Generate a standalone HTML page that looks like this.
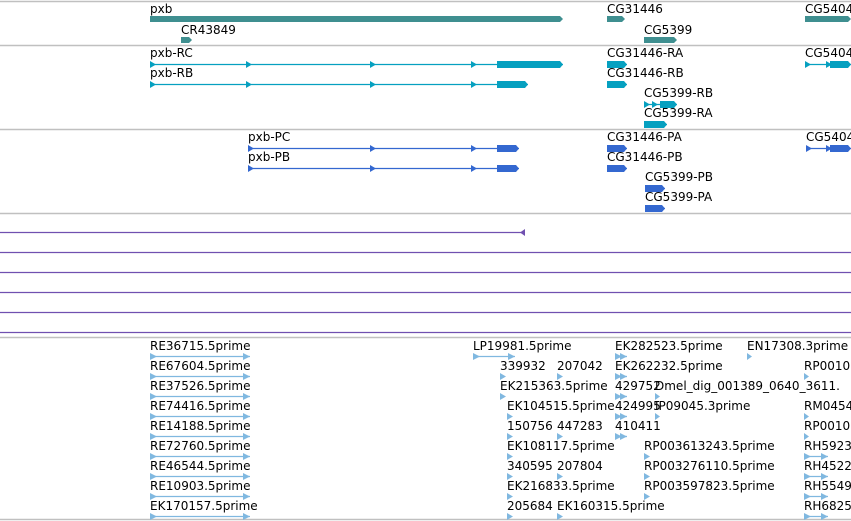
<!DOCTYPE html>
<html><head><meta charset="utf-8">
<style>
html,body{margin:0;padding:0;background:#fff;width:851px;height:521px;overflow:hidden}
svg{display:block}
text{font-family:"DejaVu Sans","Liberation Sans",sans-serif;font-size:12px;fill:#000}
</style></head>
<body>
<svg id="v" width="851" height="521"></svg>
<script>
// separators (track boundaries)
const separators = [1, 45, 129, 213, 337, 519];
// genes: [label, start, end, row]
const genes = [["pxb",150,563,0],["CR43849",181,192,1],["CG31446",607,625,0],["CG5399",644,677,1],["CG5404",805,851,0]];
// transcripts: [label, start, end, thickStart, thickEnd, row, arrows]
const transcripts = [
 ["pxb-RC",150,563,497,563,0,[150,246,370,471]],
 ["pxb-RB",150,528,497,528,1,[150,246,370,471]],
 ["CG31446-RA",607,627,607,627,0,[607,614,620]],
 ["CG31446-RB",607,627,607,627,1,[607,614,620]],
 ["CG5399-RB",644,677,660,677,2,[644,652]],
 ["CG5399-RA",644,667,644,667,3,[644,652,660]],
 ["CG5404",805,851,830,851,0,[805,826,834,842]]
];
const proteins = [
 ["pxb-PC",248,519,497,519,0,[248,370,471]],
 ["pxb-PB",248,519,497,519,1,[248,370,471]],
 ["CG31446-PA",607,627,607,627,0,[607,614,620]],
 ["CG31446-PB",607,627,607,627,1,[607,614,620]],
 ["CG5399-PB",645,665,645,665,2,[645,652,659]],
 ["CG5399-PA",645,665,645,665,3,[645,652,659]],
 ["CG5404",806,851,830,851,0,[806,826,834,842]]
];
// purple features: [start, end]
const purple = [[0,525],[0,851],[0,851],[0,851],[0,851],[0,851]];
// ESTs: [label, start, end, row]
const ests = [
 ["RE36715.5prime",150,250,0],["RE67604.5prime",150,250,1],["RE37526.5prime",150,250,2],
 ["RE74416.5prime",150,250,3],["RE14188.5prime",150,250,4],["RE72760.5prime",150,250,5],
 ["RE46544.5prime",150,250,6],["RE10903.5prime",150,250,7],["EK170157.5prime",150,250,8],
 ["LP19981.5prime",473,515,0],["EK282523.5prime",615,627,0],["EN17308.3prime",747,752,0],
 ["339932",500,506,1],["207042",557,563,1],["EK262232.5prime",615,627,1],["RP0010",804,809,1],
 ["EK215363.5prime",500,506,2],["429752",615,627,2],["Dmel_dig_001389_0640_3611.",655,660,2],
 ["EK104515.5prime",507,513,3],["424995",615,627,3],["IP09045.3prime",655,660,3],["RM0454",804,809,3],
 ["150756",507,513,4],["447283",557,563,4],["410411",615,627,4],["RP0010",804,809,4],
 ["EK108117.5prime",507,513,5],["RP003613243.5prime",644,650,5],["RH5923",804,828,5],
 ["340595",507,513,6],["207804",557,563,6],["RP003276110.5prime",644,650,6],["RH4522",804,828,6],
 ["EK216833.5prime",507,513,7],["RP003597823.5prime",644,650,7],["RH5549",804,828,7],
 ["205684",507,513,8],["EK160315.5prime",557,563,8],["RH6825",804,828,8]
];
const NS="http://www.w3.org/2000/svg", svg=document.getElementById('v');
function mk(tag,attrs,parent){const e=document.createElementNS(NS,tag);for(const k in attrs)e.setAttribute(k,attrs[k]);(parent||svg).appendChild(e);return e;}
function txt(s,x,y){const t=mk('text',{x:x,y:y});t.textContent=s;

return t;}
separators.forEach(y=>{const l=mk('line',{x1:0,x2:851,y1:y+0.5,y2:y+0.5,stroke:'#c0c0c0','stroke-width':1.5});

});
function arrowBar(x1,x2,yc,h,col){ // bar with arrow tip
 const p=mk('polygon',{points:`${x1},${yc-h/2} ${x2-3},${yc-h/2} ${x2},${yc} ${x2-3},${yc+h/2} ${x1},${yc+h/2}`,fill:col});return p;}
genes.forEach(g=>{const yb=13+g[3]*21;txt(g[0],g[1],yb);
 const b=arrowBar(g[1],g[2],yb+6,6,'#3f8f90');
 
 });
function drawTx(list,base,col){list.forEach(t=>{const yb=base+t[5]*20, yc=yb+7;txt(t[0],t[1],yb);
 const g=mk('g',{});
 
 
 mk('line',{x1:t[1],x2:t[2],y1:yc+0.5,y2:yc+0.5,stroke:col,'stroke-width':1.3},g);
 t[6].forEach(a=>mk('polygon',{points:`${a},${yc-3} ${a+6},${yc+0.5} ${a},${yc+4}`,fill:col},g));
 mk('polygon',{points:`${t[3]},${yc-3} ${t[4]-3},${yc-3} ${t[4]},${yc+0.5} ${t[4]-3},${yc+4} ${t[3]},${yc+4}`,fill:col},g);
});}
drawTx(transcripts,57,'#06a0c0');
drawTx(proteins,141,'#3468d0');
purple.forEach((p,i)=>{const y=232+i*20;const g=mk('g',{});
 
 
 mk('line',{x1:p[0],x2:p[1],y1:y+0.5,y2:y+0.5,stroke:'#7050b0','stroke-width':1.3},g);
 if(p[1]<851)mk('polygon',{points:`${p[1]-5},${y+0.5} ${p[1]},${y-3} ${p[1]},${y+4}`,fill:'#7050b0'},g);});
ests.forEach(e=>{const yb=350+e[3]*20, yc=yb+6;txt(e[0],e[1],yb);
 const g=mk('g',{});
 
 
 const col='#80b8e0';
 if(e[2]-e[1]>8){mk('line',{x1:e[1],x2:e[2],y1:yc+0.5,y2:yc+0.5,stroke:col,'stroke-width':1.3},g);
  mk('polygon',{points:`${e[1]},${yc-3} ${e[1]+7},${yc+0.5} ${e[1]},${yc+4}`,fill:col},g);
  mk('polygon',{points:`${e[2]-7},${yc-3} ${e[2]},${yc+0.5} ${e[2]-7},${yc+4}`,fill:col},g);}
 else mk('polygon',{points:`${e[1]},${yc-3} ${e[2]},${yc+0.5} ${e[1]},${yc+4}`,fill:col},g);
});
</script>
</body></html>
